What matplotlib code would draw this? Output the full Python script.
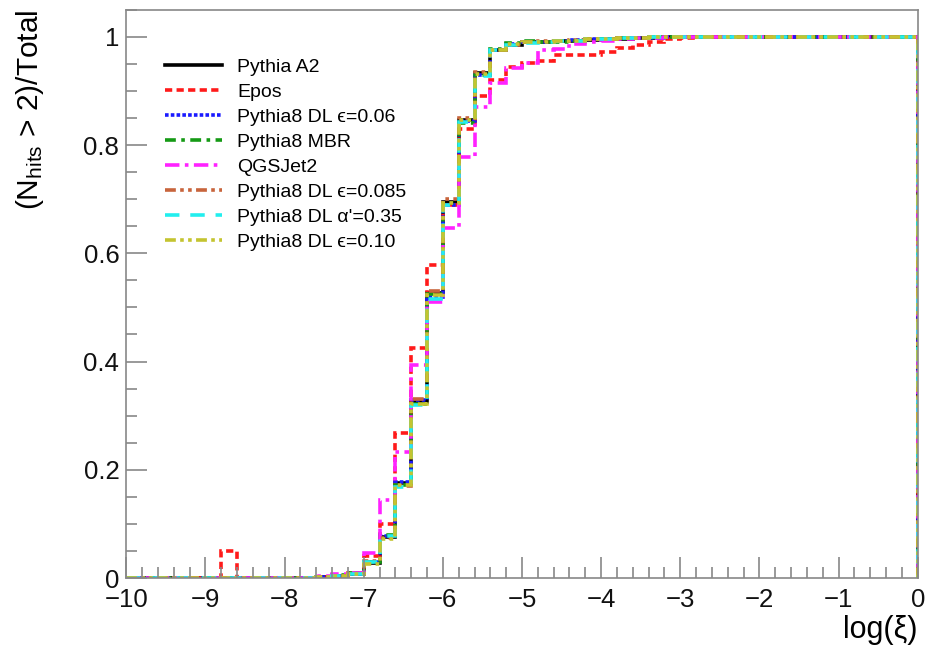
import numpy as np
import matplotlib
matplotlib.use("Agg")
import matplotlib.pyplot as plt
from matplotlib.ticker import MultipleLocator, FuncFormatter

plt.rcParams['font.family'] = ['Liberation Sans', 'DejaVu Sans']
plt.rcParams['mathtext.default'] = 'regular'

# histogram binning in log(xi): 50 bins of width 0.2 from -10 to 0
bin_edges = np.linspace(-10, 0, 51)

pythia_a2 = [0, 0, 0, 0, 0, 0, 0, 0, 0, 0,
             0, 0, 0.002, 0.004, 0.008, 0.028, 0.076, 0.175, 0.325, 0.527,
             0.695, 0.847, 0.933, 0.976, 0.985, 0.99, 0.99, 0.992, 0.993, 0.994,
             0.995, 0.996, 0.997, 0.998, 0.999, 1, 1, 1, 1, 1,
             1, 1, 1, 1, 1, 1, 1, 1, 1, 1]
epos = [0, 0, 0, 0, 0, 0, 0.05, 0, 0, 0,
        0, 0, 0.002, 0.004, 0.01, 0.04, 0.10, 0.268, 0.425, 0.579,
        0.69, 0.83, 0.89, 0.92, 0.945, 0.952, 0.955, 0.967, 0.967, 0.967,
        0.972, 0.98, 0.985, 0.99, 0.995, 0.998, 1, 1, 1, 1,
        1, 1, 1, 1, 1, 1, 1, 1, 1, 1]
dl_006 = [0, 0, 0, 0, 0, 0, 0, 0, 0, 0,
          0, 0, 0.002, 0.004, 0.008, 0.03, 0.078, 0.178, 0.328, 0.52,
          0.69, 0.845, 0.93, 0.975, 0.986, 0.99, 0.991, 0.993, 0.994, 0.995,
          0.996, 0.997, 0.998, 0.998, 0.999, 1, 1, 1, 1, 1,
          1, 1, 1, 1, 1, 1, 1, 1, 1, 1]
mbr = [0, 0, 0, 0, 0, 0, 0, 0, 0, 0,
       0, 0, 0.002, 0.005, 0.009, 0.03, 0.08, 0.172, 0.322, 0.525,
       0.692, 0.84, 0.93, 0.978, 0.988, 0.992, 0.99, 0.991, 0.993, 0.995,
       0.996, 0.997, 0.998, 0.999, 0.999, 1, 1, 1, 1, 1,
       1, 1, 1, 1, 1, 1, 1, 1, 1, 1]
qgsjet2 = [0, 0, 0, 0, 0, 0, 0, 0, 0, 0,
           0, 0, 0.003, 0.008, 0.01, 0.046, 0.144, 0.233, 0.394, 0.51,
           0.647, 0.778, 0.87, 0.915, 0.943, 0.952, 0.976, 0.978, 0.987, 0.99,
           0.993, 0.995, 0.997, 0.998, 0.999, 1, 1, 1, 1, 1,
           1, 1, 1, 1, 1, 1, 1, 1, 1, 1]
dl_0085 = [0, 0, 0, 0, 0, 0, 0, 0, 0, 0,
           0, 0, 0.002, 0.004, 0.008, 0.032, 0.074, 0.17, 0.33, 0.53,
           0.7, 0.85, 0.935, 0.975, 0.985, 0.99, 0.992, 0.992, 0.994, 0.995,
           0.996, 0.997, 0.998, 0.999, 0.999, 1, 1, 1, 1, 1,
           1, 1, 1, 1, 1, 1, 1, 1, 1, 1]
dl_alpha035 = [0, 0, 0, 0, 0, 0, 0, 0, 0, 0,
               0, 0, 0.002, 0.004, 0.008, 0.03, 0.078, 0.168, 0.32, 0.515,
               0.69, 0.842, 0.928, 0.975, 0.984, 0.989, 0.991, 0.992, 0.993, 0.995,
               0.996, 0.997, 0.998, 0.999, 0.999, 1, 1, 1, 1, 1,
               1, 1, 1, 1, 1, 1, 1, 1, 1, 1]
dl_010 = [0, 0, 0, 0, 0, 0, 0, 0, 0, 0,
          0, 0, 0.002, 0.004, 0.008, 0.026, 0.072, 0.172, 0.322, 0.522,
          0.693, 0.846, 0.932, 0.976, 0.986, 0.99, 0.991, 0.992, 0.993, 0.995,
          0.996, 0.997, 0.998, 0.999, 0.999, 1, 1, 1, 1, 1,
          1, 1, 1, 1, 1, 1, 1, 1, 1, 1]

labels = ['Pythia A2', 'Epos', 'Pythia8 DL \u03f5=0.06', 'Pythia8 MBR', 'QGSJet2',
          'Pythia8 DL \u03f5=0.085', "Pythia8 DL \u03b1'=0.35", 'Pythia8 DL \u03f5=0.10']
series = [pythia_a2, epos, dl_006, mbr, qgsjet2, dl_0085, dl_alpha035, dl_010]
colors = ['black', '#ff1a1a', '#1a1aff', '#159a15', '#ff22ff', '#c8643c', '#22eeee', '#c4c430']
styles = ['-', (0, (2, 1.2)), (0, (1, 0.6)), (0, (3, 1.5, 1, 1.5)), (0, (4, 1.5, 1, 1.5)),
          (0, (3, 1.2, 1, 1.2, 1, 1.2)), (0, (4, 3)), (0, (3, 1.2, 1, 1.2, 1, 1.2))]

fig = plt.figure(figsize=(9.28, 6.48), dpi=100)
ax = fig.add_axes([0.136, 0.108, 0.853, 0.877])

for vals, lab, c, ls in zip(series, labels, colors, styles):
    ax.stairs(vals, bin_edges, baseline=0, color=c, linestyle=ls, linewidth=2.6, label=lab)

ax.set_xlim(-10, 0)
ax.set_ylim(0, 1.05)
ax.xaxis.set_major_locator(MultipleLocator(1))
ax.xaxis.set_minor_locator(MultipleLocator(0.2))
ax.yaxis.set_major_locator(MultipleLocator(0.2))
ax.yaxis.set_minor_locator(MultipleLocator(0.05))
ax.yaxis.set_major_formatter(FuncFormatter(lambda v, p: '%g' % round(v, 2)))
ax.xaxis.set_major_formatter(FuncFormatter(lambda v, p: ('%d' % round(v)).replace('-', '\u2212')))

for sp in ax.spines.values():
    sp.set_color('#888888')
    sp.set_linewidth(1.2)
ax.tick_params(which='both', direction='in', color='#888888', labelsize=18.5, labelcolor='#111111')
ax.tick_params(which='major', length=15, width=1.2)
ax.tick_params(axis='x', which='major', pad=7)
ax.tick_params(axis='y', which='major', pad=5)
ax.tick_params(which='minor', length=8, width=1.2)

ax.set_xlabel('log(\u03be)', fontsize=22, loc='right', labelpad=2)
ax.set_ylabel('(N$_{hits}$ > 2)/Total', fontsize=21.5, loc='top', labelpad=27)

ax.legend(loc='upper left', bbox_to_anchor=(0.049, 0.915), frameon=False, fontsize=14,
          handlelength=2.95, handletextpad=0.77, labelspacing=0.38,
          borderpad=0, borderaxespad=0)

fig.savefig('out.png', dpi=100)
